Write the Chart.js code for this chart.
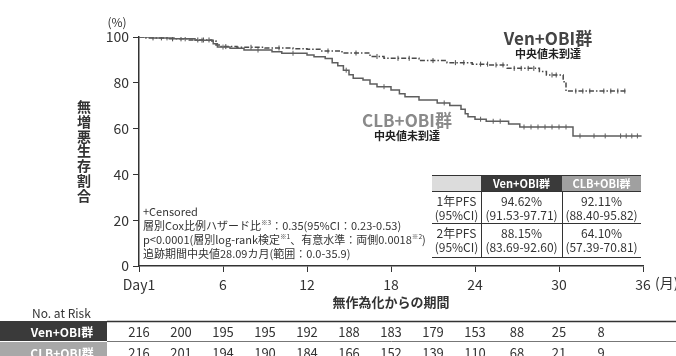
<!DOCTYPE html>
<html>
<head>
<meta charset="utf-8">
<script src="https://cdn.jsdelivr.net/npm/chart.js@4.4.1/dist/chart.umd.min.js"></script>
<style>
  body { margin: 0; background: #fff; }
  #wrap { width: 676px; height: 356px; }
</style>
</head>
<body>
<div id="wrap"><canvas id="pfsChart" width="676" height="356"></canvas></div>
<script>
// KM step points (months, % progression-free)
const venTimes = [0, 0.5, 2, 3.5, 5.2, 5.5, 5.8, 7, 9, 11, 12, 13, 14.5, 16.5, 17.5, 20, 22, 23.8, 25, 26.3, 28.6, 29.1, 30.3, 30.5, 34.8];
const venSurv  = [100, 99.6, 99.2, 98.7, 98.2, 96.5, 95.8, 95.5, 95.2, 94.9, 94.62, 93.9, 93.0, 91.5, 90.7, 89.7, 88.8, 88.15, 87.8, 86.3, 84.9, 83.4, 80.5, 76.4, 76.4];
const clbTimes = [0, 1, 2.5, 4, 5.3, 5.6, 6.5, 7.5, 9.5, 10.2, 12, 12.5, 13.3, 13.8, 14.2, 14.6, 15, 15.3, 16, 16.5, 17, 18, 18.6, 19, 20, 21.3, 22.2, 23, 23.3, 23.5, 24, 24.8, 26.4, 27.2, 31, 35.9];
const clbSurv  = [100, 99.6, 99.2, 98.6, 97.0, 95.6, 95.1, 94.3, 93.6, 92.9, 92.11, 91.4, 90.6, 88.8, 87.5, 85.5, 83.5, 82.0, 81.2, 79.5, 78.3, 76.9, 75.2, 73.9, 72.5, 71.2, 70.1, 68.5, 66.5, 65.2, 64.1, 63.2, 62.0, 60.7, 56.8, 56.8];

// censoring times
const venCensor = [1, 1.6, 2.4, 3, 4.2, 4.6, 5, 6.2, 8, 10, 13.5, 15.5, 17, 18.5, 19.3, 21, 22.6, 23.2, 24.4, 24.9, 25.5, 26, 26.8, 27.3, 27.8, 28.2, 29.5, 29.8, 31.2, 31.7, 32.2, 33.2, 33.7, 34.2, 34.7];
const clbCensor = [2, 3.3, 4.5, 6, 8.5, 11, 14.8, 17.5, 21.8, 24.4, 25.3, 25.8, 27.5, 28, 28.5, 29, 29.5, 30, 30.5, 31.5, 32.5, 33.3, 34.4, 34.8, 35.2, 35.6];

const xTickValues = [0, 6, 12, 18, 24, 30, 36];
// numbers at risk every 3 months
const riskMonths = [0, 3, 6, 9, 12, 15, 18, 21, 24, 27, 30, 33];
const riskVen = [216, 200, 195, 195, 192, 188, 183, 179, 153, 88, 25, 8];
const riskClb = [216, 201, 194, 190, 184, 166, 152, 139, 110, 68, 21, 9];

const pfsHeader = ['', 'Ven+OBI群', 'CLB+OBI群'];
const pfsRows = [
  [['1年PFS', '(95%CI)'], ['94.62%', '(91.53-97.71)'], ['92.11%', '(88.40-95.82)']],
  [['2年PFS', '(95%CI)'], ['88.15%', '(83.69-92.60)'], ['64.10%', '(57.39-70.81)']]
];

const FONT = "'Noto Sans CJK JP', 'Noto Sans', sans-serif";

function toPoints(times, surv) {
  return times.map((t, i) => ({ x: t, y: surv[i] }));
}

// value of the step curve at time t
function survAt(times, surv, t) {
  let v = surv[0];
  for (let i = 0; i < times.length; i++) {
    if (times[i] <= t) v = surv[i];
  }
  return v;
}

function censorPoints(cens, times, surv) {
  return cens.map(t => ({ x: t, y: survAt(times, surv, t) }));
}

// text runs with small superscripts
function drawRuns(ctx, x, y, runs, size) {
  runs.forEach(r => {
    if (r.sup) {
      ctx.font = (size * 0.6) + 'px ' + FONT;
      ctx.fillText(r.t, x, y - size * 0.35);
    } else {
      ctx.font = size + 'px ' + FONT;
      ctx.fillText(r.t, x, y);
    }
    x += ctx.measureText(r.t).width;
  });
}

const extras = {
  id: 'extras',
  afterDraw(chart) {
    const ctx = chart.ctx;
    const area = chart.chartArea;
    const xs = chart.scales.x;
    ctx.save();
    ctx.textBaseline = 'middle';

    // (%) and (月)
    ctx.fillStyle = '#333';
    ctx.font = '12px ' + FONT;
    ctx.textAlign = 'center';
    ctx.fillText('(%)', 117, 22);
    ctx.textAlign = 'left';
    ctx.font = '14px ' + FONT;
    ctx.fillText('(月)', 655, 283);

    // y title, stacked vertically
    ctx.font = 'bold 14px ' + FONT;
    ctx.textAlign = 'center';
    const yTitle = '無増悪生存割合';
    for (let i = 0; i < yTitle.length; i++) {
      ctx.fillText(yTitle[i], 84, 107 + i * 14.7);
    }

    // x title
    ctx.font = 'bold 13px ' + FONT;
    ctx.fillText('無作為化からの期間', (area.left + area.right) / 2, 302);

    // curve labels
    ctx.fillStyle = '#444';
    ctx.font = 'bold 17px ' + FONT;
    ctx.fillText('Ven+OBI群', 548, 39);
    ctx.font = 'bold 11px ' + FONT;
    ctx.fillStyle = '#222';
    ctx.fillText('中央値未到達', 548, 54);
    ctx.fillStyle = '#8a8a8a';
    ctx.font = 'bold 17px ' + FONT;
    ctx.fillText('CLB+OBI群', 407, 121);
    ctx.font = 'bold 11px ' + FONT;
    ctx.fillStyle = '#222';
    ctx.fillText('中央値未到達', 407, 136);

    // statistics text
    ctx.textAlign = 'left';
    ctx.fillStyle = '#333';
    const sx = 143, fs = 11;
    drawRuns(ctx, sx, 212, [{ t: '+Censored' }], fs);
    drawRuns(ctx, sx, 226, [{ t: '層別Cox比例ハザード比' }, { t: '※3', sup: true }, { t: '：0.35(95%CI：0.23-0.53)' }], fs);
    drawRuns(ctx, sx, 240, [{ t: 'p<0.0001(層別log-rank検定' }, { t: '※1', sup: true }, { t: '、有意水準：両側0.0018' }, { t: '※2', sup: true }, { t: ')' }], fs);
    drawRuns(ctx, sx, 254, [{ t: '追跡期間中央値28.09カ月(範囲：0.0-35.9)' }], fs);

    // PFS table
    const cols = [432, 481, 562, 641];
    const hTop = 175, hBot = 191, r1 = 223, r2 = 257;
    const headFill = ['#dcdcdc', '#3a3a3a', '#a0a0a0'];
    for (let c = 0; c < 3; c++) {
      ctx.fillStyle = headFill[c];
      ctx.fillRect(cols[c], hTop, cols[c + 1] - cols[c], hBot - hTop);
      ctx.fillStyle = '#fff';
      ctx.font = 'bold 11px ' + FONT;
      ctx.textAlign = 'center';
      ctx.fillText(pfsHeader[c], (cols[c] + cols[c + 1]) / 2, (hTop + hBot) / 2 + 1);
    }
    ctx.strokeStyle = '#333';
    ctx.lineWidth = 1;
    [hTop, hBot, r1, r2].forEach(yy => {
      ctx.beginPath();
      ctx.moveTo(cols[0], yy + 0.5);
      ctx.lineTo(cols[3], yy + 0.5);
      ctx.stroke();
    });
    [cols[1], cols[2]].forEach(xx => {
      ctx.beginPath();
      ctx.moveTo(xx + 0.5, hBot);
      ctx.lineTo(xx + 0.5, r2);
      ctx.stroke();
    });
    ctx.fillStyle = '#333';
    ctx.font = '12px ' + FONT;
    const rowTops = [hBot, r1];
    pfsRows.forEach((row, ri) => {
      const top = rowTops[ri];
      row.forEach((cell, ci) => {
        const cx = (cols[ci] + cols[ci + 1]) / 2;
        ctx.fillText(cell[0], cx, top + 10);
        ctx.fillText(cell[1], cx, top + 24);
      });
    });

    // risk table
    ctx.textAlign = 'left';
    ctx.font = '12px ' + FONT;
    ctx.fillStyle = '#333';
    ctx.fillText('No. at Risk', 32, 313);
    const rowY = [[321, 341], [342, 362]];
    const boxFill = ['#3a3a3a', '#a8a8a8'];
    const names = ['Ven+OBI群', 'CLB+OBI群'];
    [riskVen, riskClb].forEach((vals, ri) => {
      const [t, b] = rowY[ri];
      ctx.fillStyle = boxFill[ri];
      ctx.fillRect(0, t, 107, b - t);
      ctx.fillStyle = '#fff';
      ctx.font = 'bold 12px ' + FONT;
      ctx.textAlign = 'center';
      ctx.fillText(names[ri], 62, (t + b) / 2 + 1);
      ctx.fillStyle = '#333';
      ctx.font = '13px ' + FONT;
      vals.forEach((v, i) => {
        ctx.fillText(String(v), xs.getPixelForValue(riskMonths[i]), (t + b) / 2 + 1);
      });
    });
    ctx.strokeStyle = '#333';
    ctx.lineWidth = 1.5;
    ctx.beginPath();
    ctx.moveTo(107, 321.5);
    ctx.lineTo(676, 321.5);
    ctx.stroke();
    ctx.strokeStyle = '#777';
    ctx.lineWidth = 1;
    ctx.beginPath();
    ctx.moveTo(107, 341.5);
    ctx.lineTo(676, 341.5);
    ctx.stroke();

    ctx.restore();
  }
};

const ctx = document.getElementById('pfsChart').getContext('2d');

const pfsChart = new Chart(ctx, {
  type: 'line',
  data: {
    datasets: [
      {
        label: 'CLB+OBI群',
        data: toPoints(clbTimes, clbSurv),
        borderColor: '#5e5e5e',
        borderWidth: 1.5,
        stepped: true,
        pointRadius: 0,
        fill: false
      },
      {
        label: 'Ven+OBI群',
        data: toPoints(venTimes, venSurv),
        borderColor: '#4a4a4a',
        borderWidth: 1.5,
        borderDash: [5, 2, 1.5, 2],
        stepped: true,
        pointRadius: 0,
        fill: false
      },
      {
        label: 'CLB censored',
        data: censorPoints(clbCensor, clbTimes, clbSurv),
        showLine: false,
        pointStyle: 'line',
        rotation: 90,
        pointRadius: 2.5,
        borderColor: '#5e5e5e',
        borderWidth: 1
      },
      {
        label: 'Ven censored',
        data: censorPoints(venCensor, venTimes, venSurv),
        showLine: false,
        pointStyle: 'line',
        rotation: 90,
        pointRadius: 2.5,
        borderColor: '#4a4a4a',
        borderWidth: 1
      }
    ]
  },
  options: {
    responsive: false,
    animation: false,
    layout: {
      padding: { top: 37, right: 33, left: 0, bottom: 0 }
    },
    plugins: {
      legend: { display: false },
      tooltip: { enabled: false },
      title: { display: false }
    },
    scales: {
      x: {
        type: 'linear',
        min: 0,
        max: 36,
        afterFit: s => { s.height = 90; },
        afterBuildTicks: s => { s.ticks = xTickValues.map(v => ({ value: v })); },
        ticks: {
          padding: 4,
          color: '#333',
          font: { family: FONT, size: 14 },
          maxRotation: 0,
          callback: v => (v === 0 ? 'Day1' : String(v))
        },
        grid: { drawOnChartArea: false, drawTicks: true, tickLength: 6, color: '#333', lineWidth: 1 },
        border: { color: '#333', width: 1.5 }
      },
      y: {
        min: 0,
        max: 100,
        afterFit: s => { s.width = 139; },
        ticks: {
          stepSize: 20,
          padding: 4,
          color: '#333',
          font: { family: FONT, size: 14 }
        },
        grid: { drawOnChartArea: false, drawTicks: true, tickLength: 6, color: '#333', lineWidth: 1 },
        border: { color: '#333', width: 1.5 }
      }
    }
  },
  plugins: [extras]
});
</script>
</body>
</html>
